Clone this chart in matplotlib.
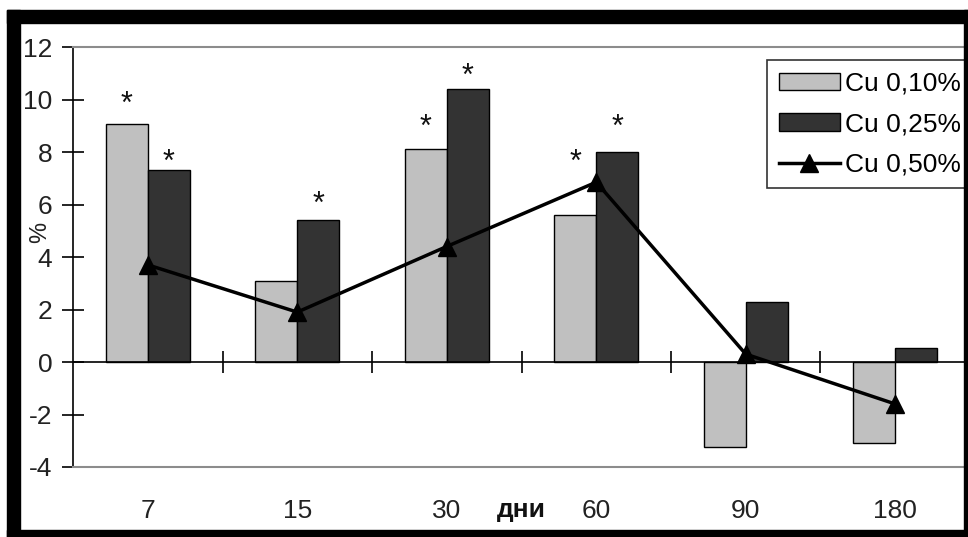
import matplotlib.pyplot as plt
from matplotlib.patches import Rectangle
import numpy as np

# Data
days = ['7', '15', '30', '60', '90', '180']
cu_010 = [9.05, 3.1, 8.1, 5.6, -3.25, -3.1]
cu_025 = [7.3, 5.4, 10.4, 8.0, 2.3, 0.55]
cu_050 = [3.7, 1.9, 4.4, 6.85, 0.3, -1.6]

# significance marks: (category index, bar offset side, height of mark)
star_idx = [0, 0, 1, 2, 2, 3, 3]
star_side = [-1, 1, 1, -1, 1, -1, 1]
star_y = [9.8, 7.6, 6.0, 8.9, 10.85, 7.6, 8.9]

col_light = '#c0c0c0'
col_dark = '#333333'
W, H = 968, 537
fs = 19

plt.rcParams['font.family'] = ['Liberation Sans', 'DejaVu Sans']
plt.rcParams['axes.unicode_minus'] = False

fig = plt.figure(figsize=(W / 100, H / 100), dpi=100)
ax = fig.add_axes([73 / W, 1 - 467 / H, (970 - 73) / W, (467 - 47) / H])

x = np.arange(len(days))
bw = 0.28
b1 = ax.bar(x - bw / 2, cu_010, bw, color=col_light, edgecolor='black', linewidth=1.0,
            label='Cu 0,10%', zorder=2)
b2 = ax.bar(x + bw / 2, cu_025, bw, color=col_dark, edgecolor='black', linewidth=1.0,
            label='Cu 0,25%', zorder=2)
l3, = ax.plot(x, cu_050, color='black', linewidth=2.5, marker='^', markersize=13,
              label='Cu 0,50%', zorder=4)

# zero line with category-boundary ticks
ax.axhline(0, color='black', linewidth=1.2, zorder=3)
ax.plot(x[:-1] + 0.5, np.zeros(len(x) - 1), linestyle='none', marker='|',
        markersize=16, markeredgewidth=1.2, color='black', zorder=3)

for i, s, yv in zip(star_idx, star_side, star_y):
    ax.text(i + s * bw / 2, yv, '*', ha='center', va='center', fontsize=22,
            color='#111111')

ax.set_xlim(-0.5, 5.5)
ax.set_ylim(-4, 12)
ax.set_yticks(np.arange(-4, 13, 2))
ax.set_xticks(x)
ax.set_xticklabels(days)
ax.tick_params(axis='x', length=0, pad=23, labelsize=fs, labelcolor='#222222')
ax.tick_params(axis='y', direction='inout', length=16, width=1.2, pad=7,
               labelsize=fs, labelcolor='#222222')

ax.spines['right'].set_visible(False)
ax.spines['left'].set_linewidth(1.2)
for side in ['top', 'bottom']:
    ax.spines[side].set_color('#8c8c8c')
    ax.spines[side].set_linewidth(1.5)

ax.text(2.5, -5.65, 'дни', ha='center', va='center', fontsize=fs,
        fontweight='bold', color='#111111')
fig.text(40 / W, 1 - 232 / H, '%', rotation=90, ha='center', va='center',
         fontsize=17, color='#222222')

leg = ax.legend([b1, b2, l3], ['Cu 0,10%', 'Cu 0,25%', 'Cu 0,50%'],
                loc='upper left', bbox_to_anchor=(767 / W, 1 - 60 / H),
                bbox_transform=fig.transFigure, fontsize=fs, frameon=True,
                fancybox=False, edgecolor='black', handlelength=2.3,
                handleheight=0.65, labelspacing=0.62, handletextpad=0.2,
                borderpad=0.45, borderaxespad=0)
leg.get_frame().set_linewidth(1.2)

# picture frame
frame = [(7, 10, 13, H - 10), (7, 10, W - 7, 13), (7, H - 7, W - 7, 7),
         (W - 4, 10, 4, H - 10)]
for fx, fy, fw, fh in frame:
    fig.patches.append(Rectangle((fx / W, 1 - (fy + fh) / H), fw / W, fh / H,
                                 transform=fig.transFigure, color='black',
                                 zorder=10))

fig.savefig('out.png', dpi=100)
